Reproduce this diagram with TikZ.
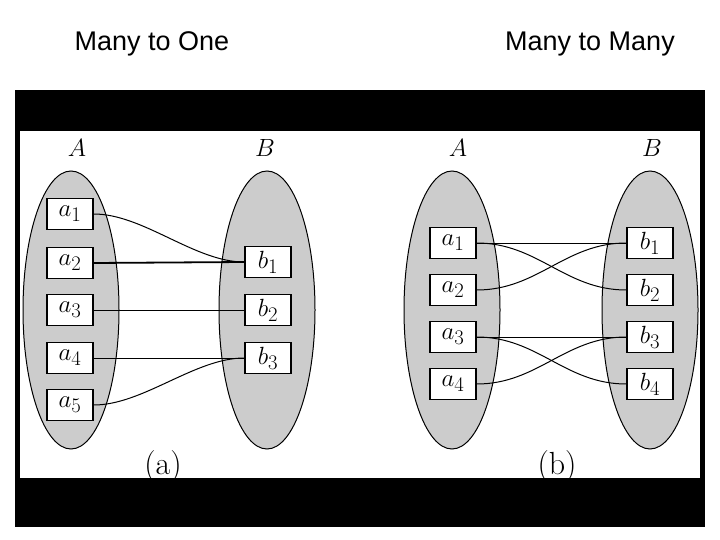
\documentclass[tikz,border=0pt]{standalone}
\usepackage{fontspec}
\newfontfamily\titlefont{Liberation Sans}
\usetikzlibrary{positioning,shapes.geometric}
\tikzset{
  set/.style={ellipse, draw, fill=lightgray!80, minimum width=96pt, minimum height=278pt, line width=1pt},
  elem/.style={rectangle, draw, fill=white, minimum width=46pt, minimum height=31pt, inner sep=0pt, font=\fontsize{32}{36}\selectfont, line width=1.6pt},
  link/.style={line width=1pt},
  lbl/.style={font=\fontsize{32}{36}\selectfont}
}
\begin{document}
\begin{tikzpicture}[x=1pt,y=-1pt]
    \useasboundingbox (0,0) rectangle (720,540);
    \fill [black] (15,90) rectangle (705,527);
    \fill [white] (20,131) rectangle (700,478);

    \node [font=\titlefont\fontsize{27}{32}\selectfont] (title1) at (152,44) {Many to One};
    \node [font=\titlefont\fontsize{27}{32}\selectfont] (title2) at (590,44) {Many to Many};

    % (a)
    \node [set] (setA1) at (71,310) {};
    \node [set] (setB1) at (267,310) {};
    \node [lbl] (labA1) at (77,148) {$A$};
    \node [lbl] (labB1) at (265,148) {$B$};
    \node [elem] (a1) at (70,214) {$a_1$};
    \node [elem] (a2) at (70,263) {$a_2$};
    \node [elem] (a3) at (70,310) {$a_3$};
    \node [elem] (a4) at (70,358) {$a_4$};
    \node [elem] (a5) at (70,405) {$a_5$};
    \node [elem] (b1) at (268,262) {$b_1$};
    \node [elem] (b2) at (268,310) {$b_2$};
    \node [elem] (b3) at (268,358) {$b_3$};
    \node [lbl] (capa) at (163,467) {(a)};

    \draw [link] (a1.east) to [out=0, in=180, looseness=0.8] (b1.west);
    \draw [link, line width=1.8pt] (a2.east) -- (b1.west);
    \draw [link] (a3.east) -- (b2.west);
    \draw [link] (a4.east) -- (b3.west);
    \draw [link] (a5.east) to [out=0, in=180, looseness=0.8] (b3.west);

    % (b)
    \node [set] (setA2) at (452,310) {};
    \node [set] (setB2) at (650,310) {};
    \node [lbl] (labA2) at (458,148) {$A$};
    \node [lbl] (labB2) at (652,148) {$B$};
    \node [elem] (c1) at (453,243) {$a_1$};
    \node [elem] (c2) at (453,290) {$a_2$};
    \node [elem] (c3) at (453,337) {$a_3$};
    \node [elem] (c4) at (453,384) {$a_4$};
    \node [elem] (d1) at (650,243) {$b_1$};
    \node [elem] (d2) at (650,290) {$b_2$};
    \node [elem] (d3) at (650,337) {$b_3$};
    \node [elem] (d4) at (650,384) {$b_4$};
    \node [lbl] (capb) at (557,467) {(b)};

    \draw [link] (c1.east) -- (d1.west);
    \draw [link] (c1.east) to [out=0, in=180] (d2.west);
    \draw [link] (c2.east) to [out=0, in=180] (d1.west);
    \draw [link] (c3.east) -- (d3.west);
    \draw [link] (c3.east) to [out=0, in=180] (d4.west);
    \draw [link] (c4.east) to [out=0, in=180] (d3.west);
\end{tikzpicture}
\end{document}
